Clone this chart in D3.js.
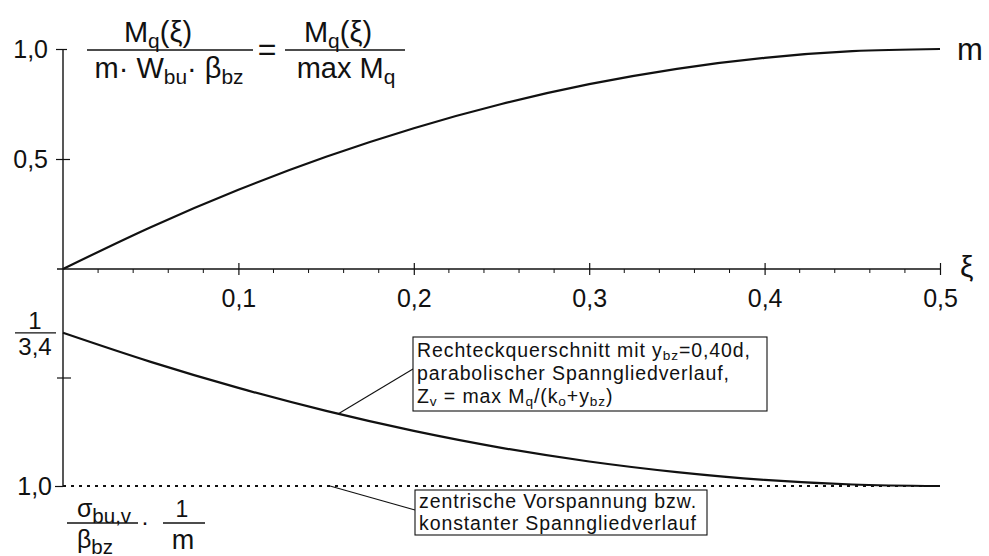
<!DOCTYPE html>
<html>
<head>
<meta charset="utf-8">
<script src="https://cdn.jsdelivr.net/npm/d3@7"></script>
<style>
  html, body { margin: 0; padding: 0; background: #fff; }
  svg { display: block; }
  text { font-family: "Liberation Sans", Arial, Helvetica, sans-serif; fill: #111; }
</style>
</head>
<body>
<svg id="chart" width="989" height="556"></svg>
<script>
// ξ positions along the span (0 = support, 0,5 = midspan)
const xi = [0, 0.05, 0.10, 0.15, 0.20, 0.25, 0.30, 0.35, 0.40, 0.45, 0.50];
// relative moment M_q(ξ)/max M_q
const momentRatio = [0, 0.19, 0.36, 0.51, 0.64, 0.75, 0.84, 0.91, 0.96, 0.99, 1.0];
// σ_bu,v/β_bz · 1/m for the parabolic tendon profile
const stressRatio = [0.294, 0.428, 0.548, 0.654, 0.746, 0.824, 0.887, 0.936, 0.972, 0.993, 1.0];
// constant (centric) prestress
const centricRatio = [1.0, 1.0];
const centricXi = [0, 0.5];

const xTickValues = [0.1, 0.2, 0.3, 0.4, 0.5];
const xTickLabels = ["0,1", "0,2", "0,3", "0,4", "0,5"];
const xMinorTicks = [0.02, 0.04, 0.06, 0.08, 0.12, 0.14, 0.16, 0.18, 0.22, 0.24, 0.26, 0.28,
                     0.32, 0.34, 0.36, 0.38, 0.42, 0.44, 0.46, 0.48];
const upperTickValues = [0.5, 1.0];
const upperTickLabels = ["0,5", "1,0"];
const lowerTickValues = [0.5, 1.0];
const lowerTickLabels = ["", "1,0"];
const lowerStart = 1 / 3.4;

const svg = d3.select("#chart");
svg.append("rect").attr("width", 989).attr("height", 556).attr("fill", "#fff");

const x = d3.scaleLinear().domain([0, 0.5]).range([63, 940]);
const yUp = d3.scaleLinear().domain([0, 1]).range([269, 49]);
const yDown = d3.scaleLinear().domain([0, 1]).range([269, 486]);

const ink = "#111";
const font = '"Liberation Sans", Arial, sans-serif';
const tickFont = 25;

// x axis (ξ) with major ticks crossing the line and short minor ticks below
const xAxis = svg.append("g").attr("transform", `translate(0,${yUp(0)})`)
  .call(d3.axisBottom(x).tickValues(xTickValues).tickFormat((d, i) => xTickLabels[i])
        .tickSizeOuter(0).tickSizeInner(6).tickPadding(14));
xAxis.select(".domain").attr("d", `M${x(0) - 6},0H${x(0.5)}`).attr("stroke", ink).attr("stroke-width", 1.4);
xAxis.selectAll(".tick line").attr("y1", -6).attr("stroke", ink).attr("stroke-width", 1.2);
xAxis.selectAll(".tick text").attr("font-size", tickFont).attr("fill", ink).style("font-family", font);
xAxis.selectAll(".minor").data(xMinorTicks).enter().append("line")
  .attr("x1", d => x(d)).attr("x2", d => x(d)).attr("y1", 0).attr("y2", 4)
  .attr("stroke", ink).attr("stroke-width", 1);

// vertical axis shared by both diagrams
svg.append("line").attr("x1", x(0)).attr("x2", x(0)).attr("y1", yUp(1)).attr("y2", yDown(1))
  .attr("stroke", ink).attr("stroke-width", 1.4);

// upper ticks
const upAxis = svg.append("g").attr("transform", `translate(${x(0)},0)`)
  .call(d3.axisLeft(yUp).tickValues(upperTickValues).tickFormat((d, i) => upperTickLabels[i])
        .tickSizeOuter(0).tickSizeInner(7).tickPadding(8));
upAxis.select(".domain").remove();
upAxis.selectAll(".tick line").attr("x2", (d) => d === 0.5 ? 7 : 4).attr("x1", -7)
  .attr("stroke", ink).attr("stroke-width", 1.2);
upAxis.selectAll(".tick text").attr("font-size", tickFont).attr("fill", ink).style("font-family", font);

// lower ticks (value grows downward)
const downAxis = svg.append("g").attr("transform", `translate(${x(0)},0)`)
  .call(d3.axisLeft(yDown).tickValues(lowerTickValues).tickFormat((d, i) => lowerTickLabels[i])
        .tickSizeOuter(0).tickSizeInner(8).tickPadding(3));
downAxis.select(".domain").remove();
downAxis.selectAll(".tick line").attr("x2", d => d === 0.5 ? 8 : 0).attr("x1", d => d === 0.5 ? -6 : -8)
  .attr("stroke", ink).attr("stroke-width", 1.2);
downAxis.selectAll(".tick text").attr("font-size", tickFont).attr("fill", ink).style("font-family", font);

// 1/3,4 label at the start value of the lower curve
const fracG = svg.append("g");
const fy = yDown(lowerStart);
fracG.append("text").attr("x", 35).attr("y", fy - 4).attr("text-anchor", "middle")
  .attr("font-size", 24).text("1");
fracG.append("line").attr("x1", 15).attr("x2", 56).attr("y1", fy).attr("y2", fy)
  .attr("stroke", ink).attr("stroke-width", 1.3);
fracG.append("text").attr("x", 35).attr("y", fy + 22).attr("text-anchor", "middle")
  .attr("font-size", 24).text("3,4");

// curves
const line = (ys) => d3.line().x((d, i) => x(xi[i])).y(d => ys(d)).curve(d3.curveMonotoneX);
svg.append("path").datum(momentRatio).attr("d", line(yUp))
  .attr("fill", "none").attr("stroke", ink).attr("stroke-width", 2.2);
svg.append("path").datum(stressRatio).attr("d", line(yDown))
  .attr("fill", "none").attr("stroke", ink).attr("stroke-width", 2.2);
svg.append("path").datum(centricRatio)
  .attr("d", d3.line().x((d, i) => x(centricXi[i])).y(d => yDown(d)))
  .attr("fill", "none").attr("stroke", ink).attr("stroke-width", 2).attr("stroke-dasharray", "3,5");

// rich text helper: parts = [[text, "sub"|undefined], ...]
function rich(g, px, py, size, parts, opts) {
  const o = Object.assign({ anchor: "start", subScale: 0.72, shift: 0.22, spacing: 0 }, opts || {});
  const t = g.append("text").attr("x", px).attr("y", py).attr("font-size", size)
    .attr("text-anchor", o.anchor).attr("letter-spacing", o.spacing);
  let shifted = false;
  parts.forEach(([s, mode]) => {
    const ts = t.append("tspan").text(s);
    if (mode === "sub") {
      ts.attr("font-size", size * o.subScale);
      if (!shifted) { ts.attr("dy", size * o.shift); shifted = true; }
    } else if (shifted) {
      ts.attr("dy", -size * o.shift); shifted = false;
    }
  });
  return t;
}

// axis names
svg.append("text").attr("x", 957).attr("y", 60).attr("font-size", 31).text("m");
svg.append("text").attr("x", 960).attr("y", 277).attr("font-size", 30).text("ξ");

// title formula: M_q(ξ) / (m·W_bu·β_bz) = M_q(ξ) / max M_q
const title = svg.append("g");
rich(title, 158, 42, 29, [["M"], ["q", "sub"], ["(ξ)"]], { anchor: "middle" });
title.append("line").attr("x1", 87).attr("x2", 253).attr("y1", 50).attr("y2", 50)
  .attr("stroke", ink).attr("stroke-width", 1.6);
rich(title, 169, 78, 29, [["m· W"], ["bu", "sub"], ["· β"], ["bz", "sub"]], { anchor: "middle" });
title.append("text").attr("x", 267).attr("y", 60).attr("text-anchor", "middle")
  .attr("font-size", 32).text("=");
rich(title, 338, 42, 29, [["M"], ["q", "sub"], ["(ξ)"]], { anchor: "middle" });
title.append("line").attr("x1", 285).attr("x2", 405).attr("y1", 50).attr("y2", 50)
  .attr("stroke", ink).attr("stroke-width", 1.6);
rich(title, 346, 78, 29, [["max M"], ["q", "sub"]], { anchor: "middle" });

// lower axis formula: σ_bu,v/β_bz · 1/m
const lf = svg.append("g");
rich(lf, 104, 517, 25, [["σ"], ["bu,v", "sub"]], { anchor: "middle", subScale: 0.82 });
lf.append("line").attr("x1", 67).attr("x2", 138).attr("y1", 523).attr("y2", 523)
  .attr("stroke", ink).attr("stroke-width", 1.4);
rich(lf, 95, 548, 25, [["β"], ["bz", "sub"]], { anchor: "middle", subScale: 0.82 });
lf.append("text").attr("x", 145).attr("y", 530).attr("font-size", 24).attr("text-anchor", "middle").text("·");
lf.append("text").attr("x", 182).attr("y", 517).attr("font-size", 23).attr("text-anchor", "middle").text("1");
lf.append("line").attr("x1", 163).attr("x2", 205).attr("y1", 523).attr("y2", 523)
  .attr("stroke", ink).attr("stroke-width", 1.4);
lf.append("text").attr("x", 183).attr("y", 549).attr("font-size", 27).attr("text-anchor", "middle").text("m");

// annotation boxes
const ann = { subScale: 0.7, shift: 0.15, spacing: 0.9 };
const annFont = 19.5;

// parabolic tendon
const a1 = svg.append("g");
const a1Xi = 0.157;
const a1Val = d3.interpolateNumber(stressRatio[3], stressRatio[4])((a1Xi - 0.15) / 0.05);
a1.append("line").attr("x1", x(a1Xi)).attr("y1", yDown(a1Val)).attr("x2", 413).attr("y2", 369)
  .attr("stroke", ink).attr("stroke-width", 1.1);
a1.append("rect").attr("x", 413).attr("y", 337).attr("width", 354).attr("height", 74)
  .attr("fill", "#fff").attr("stroke", ink).attr("stroke-width", 1.1);
rich(a1, 417, 357, annFont, [["Rechteckquerschnitt mit y"], ["bz", "sub"], ["=0,40d,"]], ann);
rich(a1, 417, 380, annFont, [["parabolischer Spanngliedverlauf,"]], ann);
rich(a1, 417, 403, annFont, [["Z"], ["v", "sub"], [" = max M"], ["q", "sub"], ["/(k"], ["o", "sub"], ["+y"], ["bz", "sub"], [")"]], ann);

// centric prestress
const a2 = svg.append("g");
a2.append("line").attr("x1", 330).attr("y1", yDown(1)).attr("x2", 415).attr("y2", 510)
  .attr("stroke", ink).attr("stroke-width", 1.1);
a2.append("rect").attr("x", 415).attr("y", 490).attr("width", 292).attr("height", 45)
  .attr("fill", "#fff").attr("stroke", ink).attr("stroke-width", 1.1);
rich(a2, 419, 508, annFont, [["zentrische Vorspannung bzw."]], ann);
rich(a2, 419, 530, annFont, [["konstanter Spanngliedverlauf"]], ann);
</script>
</body>
</html>
